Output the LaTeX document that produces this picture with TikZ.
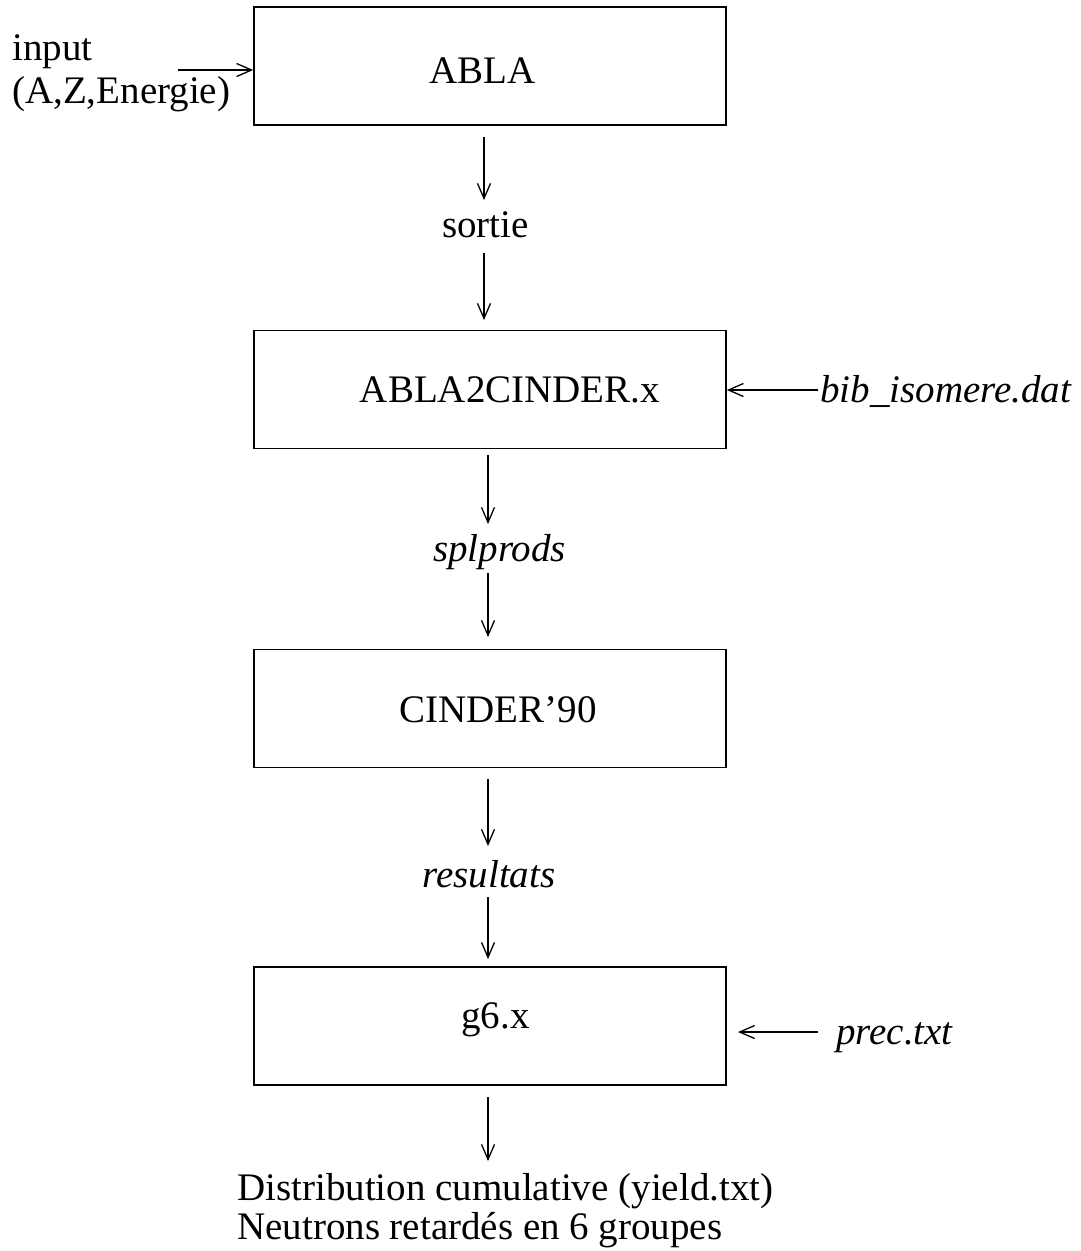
\documentclass[tikz,border=0pt]{standalone}
\usepackage{fontspec}
\setmainfont{Liberation Serif}
\usetikzlibrary{arrows.meta}
\begin{document}
\begin{tikzpicture}[x=1pt,y=-1pt,
  box/.style={draw,line width=1.6pt,minimum width=472pt,minimum height=118pt,inner sep=0pt},
  lbl/.style={inner sep=0pt,anchor=base,font=\fontsize{39}{39}\selectfont},
  arr/.style={line width=1.3pt,-{Straight Barb[length=15pt,width=13pt,line width=1.3pt]}}]
\useasboundingbox (0,0) rectangle (1080,1251);
% boxes
\node[box] (b1) at (490,66) {};
\node[box] (b2) at (490,389.5) {};
\node[box] (b3) at (490,708.5) {};
\node[box] (b4) at (490,1026) {};
% box labels
\node[lbl] (t1) at (482.5,83) {ABLA};
\node[lbl] (t2) at (510,402) {ABLA2CINDER.x};
\node[lbl] (t3) at (498,722) {CINDER’90};
\node[lbl] (t4) at (495.5,1028) {g6.x};
% intermediate labels
\node[lbl] (sortie) at (485.5,237) {sortie};
\node[lbl] (spl) at (499.5,561) {\itshape splprods};
\node[lbl] (res) at (489,887) {\itshape resultats};
% outputs
\node[lbl,anchor=base west] (out1) at (237,1200) {Distribution cumulative (yield.txt)};
\node[lbl,anchor=base west] (out2) at (237,1239) {Neutrons retardés en 6 groupes};
% side inputs
\node[lbl,anchor=base west] (inp1) at (12,60) {input};
\node[lbl,anchor=base west] (inp2) at (12,103) {(A,Z,Energie)};
\node[lbl,anchor=base west] (bib) at (820,402) {\itshape bib\_isomere.dat};
\node[lbl,anchor=base west] (prec) at (836,1044) {\itshape prec.txt};
% coordinates for arrows
\coordinate (a1s) at (484,137); \coordinate (a1e) at (484,200);
\coordinate (a2s) at (484,253); \coordinate (a2e) at (484,320);
\coordinate (a3s) at (488,455); \coordinate (a3e) at (488,524);
\coordinate (a4s) at (488,573); \coordinate (a4e) at (488,637);
\coordinate (a5s) at (488,779); \coordinate (a5e) at (488,846);
\coordinate (a6s) at (488,897); \coordinate (a6e) at (488,959);
\coordinate (a7s) at (488,1097); \coordinate (a7e) at (488,1161);
\coordinate (ins) at (178,70);
\coordinate (bibs) at (818,390);
\coordinate (precs) at (818,1032); \coordinate (prece) at (738,1032);
\draw[arr] (a1s) -- (a1e);
\draw[arr] (a2s) -- (a2e);
\draw[arr] (a3s) -- (a3e);
\draw[arr] (a4s) -- (a4e);
\draw[arr] (a5s) -- (a5e);
\draw[arr] (a6s) -- (a6e);
\draw[arr] (a7s) -- (a7e);
\draw[arr] (ins) -- (b1.west |- ins);
\draw[arr] (bibs) -- (b2.east |- bibs);
\draw[arr] (precs) -- (prece);
\end{tikzpicture}
\end{document}
